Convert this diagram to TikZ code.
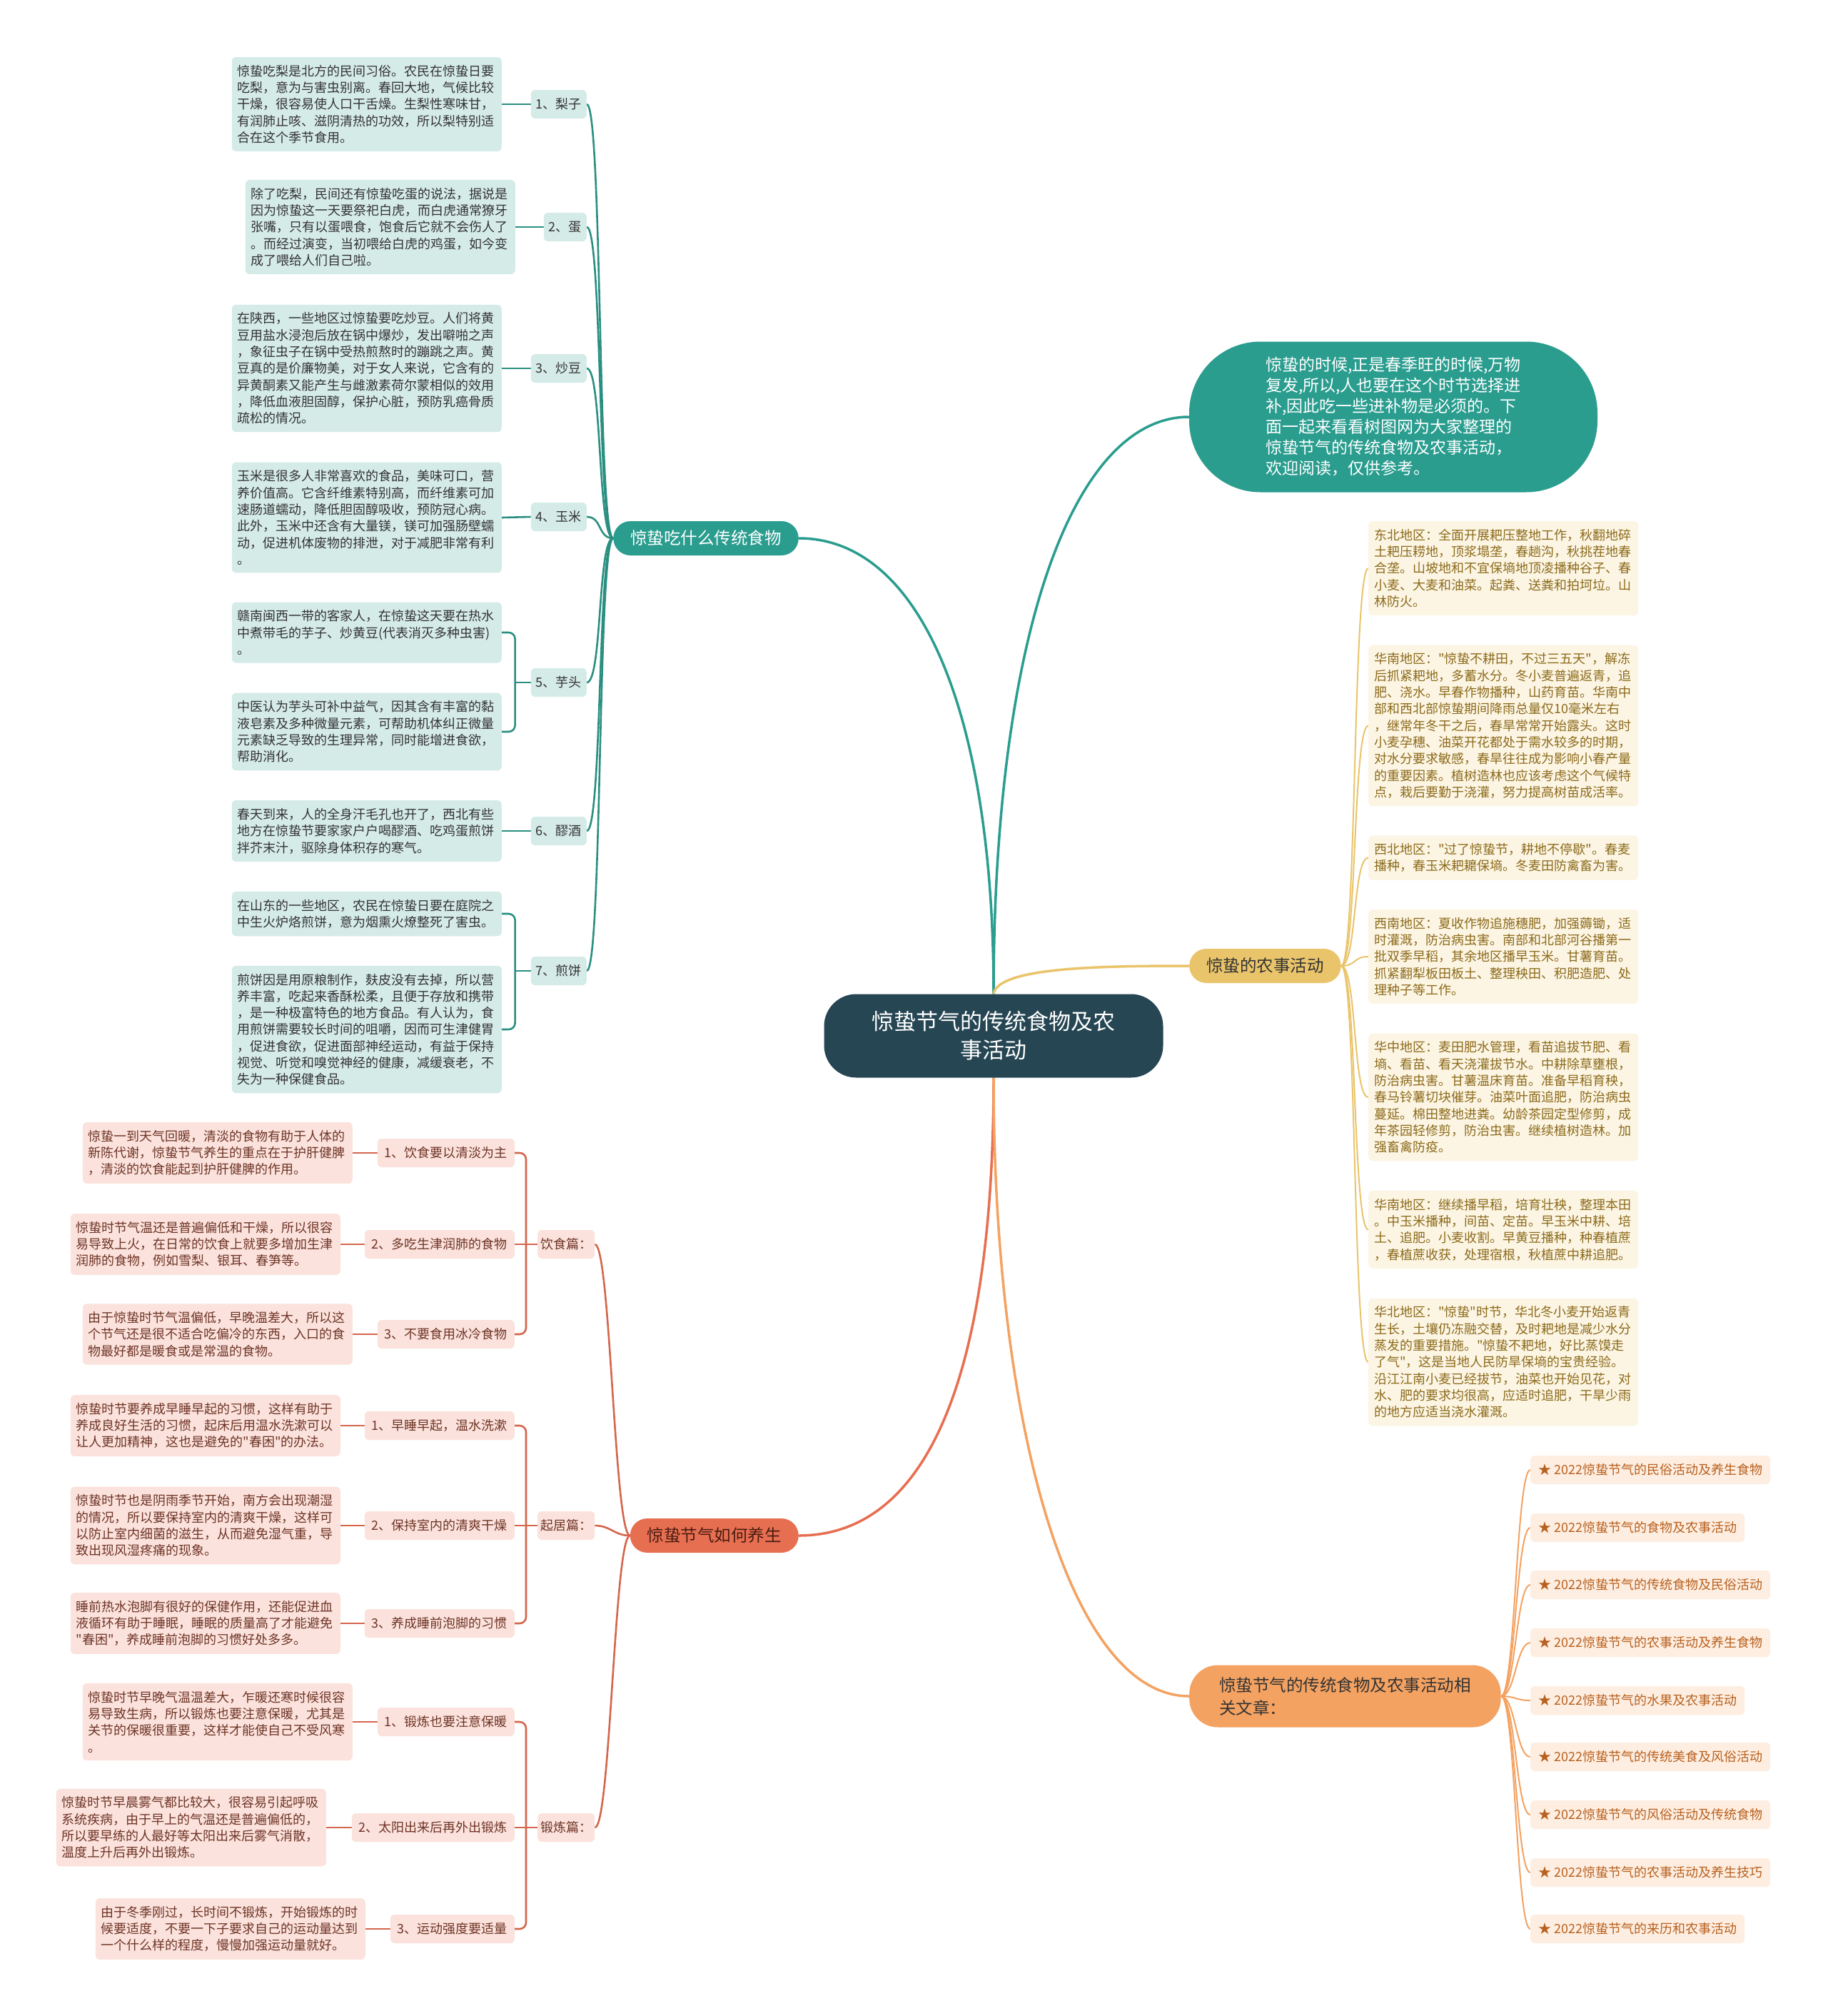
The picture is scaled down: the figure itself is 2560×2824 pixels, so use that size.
\documentclass[tikz,border=0pt]{standalone}
\usepackage{fontspec}
\setmainfont{Noto Sans CJK SC}[Ligatures=TeXOff]
\usetikzlibrary{backgrounds}
\definecolor{cRoot}{HTML}{264653}
\definecolor{cTeal}{HTML}{2A9D8F}
\definecolor{cYel}{HTML}{E9C46A}
\definecolor{cOra}{HTML}{F4A261}
\definecolor{cCor}{HTML}{E76F51}
\definecolor{fTeal}{HTML}{D5EBE8}
\definecolor{fYel}{HTML}{FCF5E4}
\definecolor{fCor}{HTML}{FBE2DC}
\definecolor{fOra}{HTML}{FEEEE1}
\definecolor{tTeal}{HTML}{333333}
\definecolor{tYel}{HTML}{8C6A1A}
\definecolor{tCor}{HTML}{6E3426}
\definecolor{tCorDark}{HTML}{4A1C12}
\definecolor{tOra}{HTML}{B8601E}
\definecolor{lTeal}{HTML}{2A8F80}
\definecolor{lCor}{HTML}{D4664C}
\newcommand\fsSmall{\fontsize{18}{23.3}\selectfont}
\newcommand\fsBranch{\fontsize{23.5}{32}\selectfont}
\begin{document}
\begin{tikzpicture}[x=1pt,y=-1pt,
  rootnode/.style={fill=cRoot,text=white,rounded corners=45pt,align=center,font=\fontsize{31}{40}\selectfont,minimum width=475pt,minimum height=117pt},
  intronode/.style={fill=cTeal,text=white,rounded corners=100pt,align=left,font=\fontsize{23}{29}\selectfont,minimum width=572pt,minimum height=211pt},
  branchnode/.style={rounded corners=24pt,font=\fsBranch,inner xsep=24pt,minimum height=48pt},
  leafbox/.style={rounded corners=6pt,font=\fsSmall,align=left,text width=362pt,inner xsep=8pt,inner ysep=11pt},
  labbox/.style={rounded corners=6pt,font=\fsSmall,inner xsep=7pt,minimum height=40pt},
  fleaf/.style={leafbox,fill=fTeal,text=tTeal},
  flab/.style={labbox,fill=fTeal,text=tTeal},
  yleaf/.style={leafbox,fill=fYel,text=tYel},
  hleaf/.style={leafbox,fill=fCor,text=tCor},
  hlab/.style={labbox,fill=fCor,text=tCor,inner xsep=10pt},
  hsub/.style={labbox,fill=fCor,text=tCor,inner xsep=4pt},
  artbox/.style={labbox,fill=fOra,text=tOra,inner xsep=11pt},
  mainline/.style={line width=3.5pt},
  tline/.style={draw=lTeal,line width=2.6pt},
  yline/.style={draw=cYel,line width=2pt},
  hline/.style={draw=lCor,line width=2.6pt},
  oline/.style={draw=cOra,line width=2pt}
]
% ---------- root and intro ----------
\node[rootnode] (root) at (1392,1451) {惊蛰节气的传统食物及农\\事活动};
\node[intronode] (intro) at (1952,584) {惊蛰的时候,正是春季旺的时候,万物\\复发,所以,人也要在这个时节选择进\\补,因此吃一些进补物是必须的。下\\面一起来看看树图网为大家整理的\\惊蛰节气的传统食物及农事活动，\\欢迎阅读，仅供参考。};
% ---------- branches ----------
\node[branchnode,fill=cTeal,text=white,anchor=east] (food) at (1119,754) {惊蛰吃什么传统食物};
\node[branchnode,fill=cYel,text=tTeal,anchor=west] (farm) at (1666,1353) {惊蛰的农事活动};
\node[branchnode,fill=cCor,text=tCorDark,anchor=east] (health) at (1119,2151) {惊蛰节气如何养生};
\node[branchnode,fill=cOra,text=tTeal,anchor=west,align=left,inner xsep=42pt,rounded corners=40pt,minimum height=87pt] (arts) at (1666,2376) {惊蛰节气的传统食物及农事活动相\\关文章：};
% ---------- food ----------
\node[flab,anchor=east] (fl1) at (822,146) {1、梨子};
\node[flab,anchor=east] (fl2) at (822,318) {2、蛋};
\node[flab,anchor=east] (fl3) at (822,516) {3、炒豆};
\node[flab,anchor=east] (fl4) at (822,724) {4、玉米};
\node[flab,anchor=east] (fl5) at (822,956) {5、芋头};
\node[flab,anchor=east] (fl6) at (822,1164) {6、醪酒};
\node[flab,anchor=east] (fl7) at (822,1360) {7、煎饼};
\node[fleaf,anchor=east] (fd1) at (703,146) {惊蛰吃梨是北方的民间习俗。农民在惊蛰日要\\吃梨，意为与害虫别离。春回大地，气候比较\\干燥，很容易使人口干舌燥。生梨性寒味甘，\\有润肺止咳、滋阴清热的功效，所以梨特别适\\合在这个季节食用。};
\node[fleaf,anchor=east] (fd2) at (722,318) {除了吃梨，民间还有惊蛰吃蛋的说法，据说是\\因为惊蛰这一天要祭祀白虎，而白虎通常獠牙\\张嘴，只有以蛋喂食，饱食后它就不会伤人了\\。而经过演变，当初喂给白虎的鸡蛋，如今变\\成了喂给人们自己啦。};
\node[fleaf,anchor=east] (fd3) at (703,516) {在陕西，一些地区过惊蛰要吃炒豆。人们将黄\\豆用盐水浸泡后放在锅中爆炒，发出噼啪之声\\，象征虫子在锅中受热煎熬时的蹦跳之声。黄\\豆真的是价廉物美，对于女人来说，它含有的\\异黄酮素又能产生与雌激素荷尔蒙相似的效用\\，降低血液胆固醇，保护心脏，预防乳癌骨质\\疏松的情况。};
\node[fleaf,anchor=east] (fd4) at (703,725) {玉米是很多人非常喜欢的食品，美味可口，营\\养价值高。它含纤维素特别高，而纤维素可加\\速肠道蠕动，降低胆固醇吸收，预防冠心病。\\此外，玉米中还含有大量镁，镁可加强肠壁蠕\\动，促进机体废物的排泄，对于减肥非常有利\\。};
\node[fleaf,anchor=east] (fd5a) at (703,886) {赣南闽西一带的客家人，在惊蛰这天要在热水\\中煮带毛的芋子、炒黄豆(代表消灭多种虫害)\\。};
\node[fleaf,anchor=east] (fd5b) at (703,1025) {中医认为芋头可补中益气，因其含有丰富的黏\\液皂素及多种微量元素，可帮助机体纠正微量\\元素缺乏导致的生理异常，同时能增进食欲，\\帮助消化。};
\node[fleaf,anchor=east] (fd6) at (703,1164) {春天到来，人的全身汗毛孔也开了，西北有些\\地方在惊蛰节要家家户户喝醪酒、吃鸡蛋煎饼\\拌芥末汁，驱除身体积存的寒气。};
\node[fleaf,anchor=east] (fd7a) at (703,1280) {在山东的一些地区，农民在惊蛰日要在庭院之\\中生火炉烙煎饼，意为烟熏火燎整死了害虫。};
\node[fleaf,anchor=east] (fd7b) at (703,1442) {煎饼因是用原粮制作，麸皮没有去掉，所以营\\养丰富，吃起来香酥松柔，且便于存放和携带\\，是一种极富特色的地方食品。有人认为，食\\用煎饼需要较长时间的咀嚼，因而可生津健胃\\，促进食欲，促进面部神经运动，有益于保持\\视觉、听觉和嗅觉神经的健康，减缓衰老，不\\失为一种保健食品。};
% ---------- farm ----------
\node[yleaf,anchor=west] (y1) at (1917,796) {东北地区：全面开展耙压整地工作，秋翻地碎\\土耙压耢地，顶浆塌垄，春趟沟，秋挑茬地春\\合垄。山坡地和不宜保墒地顶凌播种谷子、春\\小麦、大麦和油菜。起粪、送粪和拍坷垃。山\\林防火。};
\node[yleaf,anchor=west] (y2) at (1917,1016.5) {华南地区："惊蛰不耕田，不过三五天"，解冻\\后抓紧耙地，多蓄水分。冬小麦普遍返青，追\\肥、浇水。早春作物播种，山药育苗。华南中\\部和西北部惊蛰期间降雨总量仅10毫米左右\\，继常年冬干之后，春旱常常开始露头。这时\\小麦孕穗、油菜开花都处于需水较多的时期，\\对水分要求敏感，春旱往往成为影响小春产量\\的重要因素。植树造林也应该考虑这个气候特\\点，栽后要勤于浇灌，努力提高树苗成活率。};
\node[yleaf,anchor=west] (y3) at (1917,1201.5) {西北地区："过了惊蛰节，耕地不停歇"。春麦\\播种，春玉米耙耱保墒。冬麦田防禽畜为害。};
\node[yleaf,anchor=west] (y4) at (1917,1340) {西南地区：夏收作物追施穗肥，加强薅锄，适\\时灌溉，防治病虫害。南部和北部河谷播第一\\批双季早稻，其余地区播早玉米。甘薯育苗。\\抓紧翻犁板田板土、整理秧田、积肥造肥、处\\理种子等工作。};
\node[yleaf,anchor=west] (y5) at (1917,1537) {华中地区：麦田肥水管理，看苗追拔节肥、看\\墒、看苗、看天浇灌拔节水。中耕除草壅根，\\防治病虫害。甘薯温床育苗。准备早稻育秧，\\春马铃薯切块催芽。油菜叶面追肥，防治病虫\\蔓延。棉田整地进粪。幼龄茶园定型修剪，成\\年茶园轻修剪，防治虫害。继续植树造林。加\\强畜禽防疫。};
\node[yleaf,anchor=west] (y6) at (1917,1722.5) {华南地区：继续播早稻，培育壮秧，整理本田\\。中玉米播种，间苗、定苗。早玉米中耕、培\\土、追肥。小麦收割。早黄豆播种，种春植蔗\\，春植蔗收获，处理宿根，秋植蔗中耕追肥。};
\node[yleaf,anchor=west] (y7) at (1917,1908) {华北地区："惊蛰"时节，华北冬小麦开始返青\\生长，土壤仍冻融交替，及时耙地是减少水分\\蒸发的重要措施。"惊蛰不耙地，好比蒸馍走\\了气"，这是当地人民防旱保墒的宝贵经验。\\沿江江南小麦已经拔节，油菜也开始见花，对\\水、肥的要求均很高，应适时追肥，干旱少雨\\的地方应适当浇水灌溉。};
% ---------- health ----------
\node[hsub,anchor=west] (hs1) at (753,1743) {饮食篇：};
\node[hsub,anchor=west] (hs2) at (753,2137) {起居篇：};
\node[hsub,anchor=west] (hs3) at (753,2560) {锻炼篇：};
\node[hlab,anchor=east] (hla1) at (721,1615) {1、饮食要以清淡为主};
\node[hlab,anchor=east] (hla2) at (721,1743) {2、多吃生津润肺的食物};
\node[hlab,anchor=east] (hla3) at (721,1869) {3、不要食用冰冷食物};
\node[hlab,anchor=east] (hlb1) at (721,1997) {1、早睡早起，温水洗漱};
\node[hlab,anchor=east] (hlb2) at (721,2137) {2、保持室内的清爽干燥};
\node[hlab,anchor=east] (hlb3) at (721,2274) {3、养成睡前泡脚的习惯};
\node[hlab,anchor=east] (hlc1) at (721,2412) {1、锻炼也要注意保暖};
\node[hlab,anchor=east] (hlc2) at (721,2560) {2、太阳出来后再外出锻炼};
\node[hlab,anchor=east] (hlc3) at (721,2702) {3、运动强度要适量};
\node[hleaf,anchor=east] (hda1) at (494,1615) {惊蛰一到天气回暖，清淡的食物有助于人体的\\新陈代谢，惊蛰节气养生的重点在于护肝健脾\\，清淡的饮食能起到护肝健脾的作用。};
\node[hleaf,anchor=east] (hda2) at (477,1743) {惊蛰时节气温还是普遍偏低和干燥，所以很容\\易导致上火，在日常的饮食上就要多增加生津\\润肺的食物，例如雪梨、银耳、春笋等。};
\node[hleaf,anchor=east] (hda3) at (494,1869) {由于惊蛰时节气温偏低，早晚温差大，所以这\\个节气还是很不适合吃偏冷的东西，入口的食\\物最好都是暖食或是常温的食物。};
\node[hleaf,anchor=east] (hdb1) at (477,1997) {惊蛰时节要养成早睡早起的习惯，这样有助于\\养成良好生活的习惯，起床后用温水洗漱可以\\让人更加精神，这也是避免的"春困"的办法。};
\node[hleaf,anchor=east] (hdb2) at (477,2137) {惊蛰时节也是阴雨季节开始，南方会出现潮湿\\的情况，所以要保持室内的清爽干燥，这样可\\以防止室内细菌的滋生，从而避免湿气重，导\\致出现风湿疼痛的现象。};
\node[hleaf,anchor=east] (hdb3) at (477,2274) {睡前热水泡脚有很好的保健作用，还能促进血\\液循环有助于睡眠，睡眠的质量高了才能避免\\"春困"，养成睡前泡脚的习惯好处多多。};
\node[hleaf,anchor=east] (hdc1) at (494,2412) {惊蛰时节早晚气温温差大，乍暖还寒时候很容\\易导致生病，所以锻炼也要注意保暖，尤其是\\关节的保暖很重要，这样才能使自己不受风寒\\。};
\node[hleaf,anchor=east] (hdc2) at (457,2560) {惊蛰时节早晨雾气都比较大，很容易引起呼吸\\系统疾病，由于早上的气温还是普遍偏低的，\\所以要早练的人最好等太阳出来后雾气消散，\\温度上升后再外出锻炼。};
\node[hleaf,anchor=east] (hdc3) at (512,2702) {由于冬季刚过，长时间不锻炼，开始锻炼的时\\候要适度，不要一下子要求自己的运动量达到\\一个什么样的程度，慢慢加强运动量就好。};
% ---------- articles ----------
\node[artbox,anchor=west] (a1) at (2144,2059) {★ 2022惊蛰节气的民俗活动及养生食物};
\node[artbox,anchor=west] (a2) at (2144,2140) {★ 2022惊蛰节气的食物及农事活动};
\node[artbox,anchor=west] (a3) at (2144,2220) {★ 2022惊蛰节气的传统食物及民俗活动};
\node[artbox,anchor=west] (a4) at (2144,2301) {★ 2022惊蛰节气的农事活动及养生食物};
\node[artbox,anchor=west] (a5) at (2144,2382) {★ 2022惊蛰节气的水果及农事活动};
\node[artbox,anchor=west] (a6) at (2144,2461) {★ 2022惊蛰节气的传统美食及风俗活动};
\node[artbox,anchor=west] (a7) at (2144,2542) {★ 2022惊蛰节气的风俗活动及传统食物};
\node[artbox,anchor=west] (a8) at (2144,2623) {★ 2022惊蛰节气的农事活动及养生技巧};
\node[artbox,anchor=west] (a9) at (2144,2702) {★ 2022惊蛰节气的来历和农事活动};
% ---------- connectors ----------
\begin{pgfonlayer}{background}
\fill[white] (0,0) rectangle (2560,2824);
% root curves
\draw[mainline,cTeal] (root.north) .. controls (1392,1000) and (1290,754) .. (food.east);
\draw[mainline,cTeal] (root.north) .. controls (1392,900) and (1500,584) .. (intro.west);
\draw[mainline,cYel] (root.north) .. controls (1398,1355) and (1540,1353) .. (farm.west);
\draw[mainline,cCor] (root.south) .. controls (1392,1950) and (1290,2151) .. (health.east);
\draw[mainline,cOra] (root.south) .. controls (1392,2000) and (1500,2376) .. (arts.west);
% food
\foreach \n in {fl1,fl2,fl3,fl4,fl5,fl6,fl7}
  \draw[tline] (\n.east) .. controls +(22,0) and +(-22,0) .. (food.west);
\draw[tline] (fd1.east) -- (fl1.west);
\draw[tline] (fd2.east) -- (fl2.west);
\draw[tline] (fd3.east) -- (fl3.west);
\draw[tline] (fd4.east) -- (fl4.west);
\draw[tline] (fd6.east) -- (fl6.west);
\draw[tline,rounded corners=9pt] (fd5a.east) -| ([xshift=-22pt]fl5.west) |- (fd5b.east);
\draw[tline] ([xshift=-22pt]fl5.west) -- (fl5.west);
\draw[tline,rounded corners=9pt] (fd7a.east) -| ([xshift=-22pt]fl7.west) |- (fd7b.east);
\draw[tline] ([xshift=-22pt]fl7.west) -- (fl7.west);
% farm
\foreach \n in {y1,y2,y3,y4,y5,y6,y7}
  \draw[yline] (farm.east) .. controls +(22,0) and +(-22,0) .. (\n.west);
% health
\foreach \n in {hs1,hs2,hs3}
  \draw[hline] (\n.east) .. controls +(22,0) and +(-22,0) .. (health.west);
\foreach \a/\b in {hda1/hla1,hda2/hla2,hda3/hla3,hdb1/hlb1,hdb2/hlb2,hdb3/hlb3,hdc1/hlc1,hdc2/hlc2,hdc3/hlc3}
  \draw[hline] (\a.east) -- (\b.west);
\draw[hline,rounded corners=9pt] (hla1.east) -| ([xshift=-16pt]hs1.west) |- (hla3.east);
\draw[hline] (hla2.east) -- (hs1.west);
\draw[hline,rounded corners=9pt] (hlb1.east) -| ([xshift=-16pt]hs2.west) |- (hlb3.east);
\draw[hline] (hlb2.east) -- (hs2.west);
\draw[hline,rounded corners=9pt] (hlc1.east) -| ([xshift=-16pt]hs3.west) |- (hlc3.east);
\draw[hline] (hlc2.east) -- (hs3.west);
% articles
\foreach \n in {a1,a2,a3,a4,a5,a6,a7,a8,a9}
  \draw[oline] (arts.east) .. controls +(20,0) and +(-20,0) .. (\n.west);
\end{pgfonlayer}
\end{tikzpicture}
\end{document}
